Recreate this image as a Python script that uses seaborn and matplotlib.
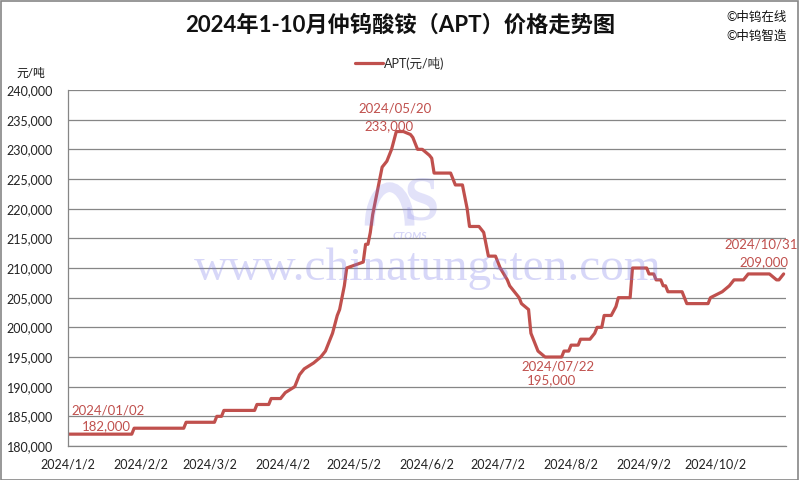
import pandas as pd
import matplotlib
matplotlib.use("Agg")
import matplotlib.pyplot as plt
import matplotlib.ticker as mticker
from matplotlib.patches import Rectangle, Arc
import seaborn as sns

# price turning points (yuan/ton)
dates = [
    "2024-01-02", "2024-01-29", "2024-01-30", "2024-02-20", "2024-02-21",
    "2024-03-04", "2024-03-05", "2024-03-07", "2024-03-08", "2024-03-21",
    "2024-03-22", "2024-03-27", "2024-03-28", "2024-04-01", "2024-04-03",
    "2024-04-07", "2024-04-08", "2024-04-09", "2024-04-11", "2024-04-15",
    "2024-04-18", "2024-04-20", "2024-04-22", "2024-04-23", "2024-04-25",
    "2024-04-26", "2024-04-27", "2024-04-28", "2024-04-29", "2024-05-06",
    "2024-05-07", "2024-05-08", "2024-05-09", "2024-05-10", "2024-05-12",
    "2024-05-13", "2024-05-14", "2024-05-16", "2024-05-18", "2024-05-19",
    "2024-05-20", "2024-05-23", "2024-05-26", "2024-05-27", "2024-05-29",
    "2024-05-31", "2024-06-03", "2024-06-04", "2024-06-05", "2024-06-12",
    "2024-06-14", "2024-06-17", "2024-06-19", "2024-06-20", "2024-06-24",
    "2024-06-26", "2024-06-28", "2024-07-01", "2024-07-03", "2024-07-06",
    "2024-07-07", "2024-07-09", "2024-07-11", "2024-07-12", "2024-07-15",
    "2024-07-16", "2024-07-17", "2024-07-19", "2024-07-22", "2024-07-29",
    "2024-07-30", "2024-08-01", "2024-08-02", "2024-08-05", "2024-08-06",
    "2024-08-10", "2024-08-12", "2024-08-13", "2024-08-15", "2024-08-16",
    "2024-08-19", "2024-08-21", "2024-08-22", "2024-08-27", "2024-08-28",
    "2024-09-03", "2024-09-04", "2024-09-06", "2024-09-07", "2024-09-09",
    "2024-09-10", "2024-09-11", "2024-09-12", "2024-09-18", "2024-09-20",
    "2024-09-29", "2024-09-30", "2024-10-05", "2024-10-08", "2024-10-10",
    "2024-10-14", "2024-10-16", "2024-10-25", "2024-10-28", "2024-10-29",
    "2024-10-31",
]
prices = [
    182000, 182000, 183000, 183000, 184000,
    184000, 185000, 185000, 186000, 186000,
    187000, 187000, 188000, 188000, 189000,
    190000, 191000, 192000, 193000, 194000,
    195000, 196000, 198000, 199000, 202000,
    203000, 205000, 207000, 210000, 211000,
    214000, 214000, 216000, 219000, 223000,
    225000, 227000, 228000, 230000, 231500,
    233000, 233000, 232500, 232000, 230000,
    230000, 229000, 228500, 226000, 226000,
    224000, 224000, 220000, 217000, 217000,
    216000, 212000, 212000, 210000, 208000,
    207000, 206000, 205000, 204000, 203000,
    199000, 198000, 196000, 195000, 195000,
    196000, 196000, 197000, 197000, 198000,
    198000, 199000, 200000, 200000, 202000,
    202000, 203500, 205000, 205000, 210000,
    210000, 209000, 209000, 208000, 208000,
    207000, 207000, 206000, 206000, 204000,
    204000, 205000, 206000, 207000, 208000,
    208000, 209000, 209000, 208000, 208000,
    209000,
]

tick_dates = ["2024-01-02", "2024-02-02", "2024-03-02", "2024-04-02", "2024-05-02",
              "2024-06-02", "2024-07-02", "2024-08-02", "2024-09-02", "2024-10-02"]
tick_labels = ["2024/1/2", "2024/2/2", "2024/3/2", "2024/4/2", "2024/5/2",
               "2024/6/2", "2024/7/2", "2024/8/2", "2024/9/2", "2024/10/2"]

note_dates = ["2024-01-02", "2024-05-20", "2024-07-22", "2024-10-31"]
note_prices = [182000, 233000, 195000, 209000]

red = "#C0504D"
grey = "#868686"
wm = "#7b7be8"

sns.set_style("white")
plt.rcParams["font.family"] = ["Lato", "Noto Sans CJK SC", "DejaVu Sans"]

df = pd.DataFrame({"date": pd.to_datetime(dates), "price": prices})

fig = plt.figure(figsize=(8, 4.8), dpi=100)
ax = fig.add_axes([0.085, 0.0708, 0.8975, 0.7417])

sns.lineplot(data=df, x="date", y="price", color=red, linewidth=2.3,
             ax=ax, label="APT(元/吨)")

ax.set_xlim(pd.Timestamp("2024-01-02"), pd.Timestamp("2024-11-01"))
ax.set_ylim(180000, 240000)
ax.yaxis.set_major_locator(mticker.MultipleLocator(5000))
ax.yaxis.set_major_formatter(mticker.StrMethodFormatter("{x:,.0f}"))
ax.set_xticks(pd.to_datetime(tick_dates))
ax.set_xticklabels(tick_labels)
ax.set_xlabel("")
ax.set_ylabel("")
ax.grid(axis="y", color=grey, linewidth=0.9)
ax.set_axisbelow(True)
for s in ["top", "right"]:
    ax.spines[s].set_visible(False)
for s in ["left", "bottom"]:
    ax.spines[s].set_color(grey)
    ax.spines[s].set_linewidth(0.9)
ax.tick_params(axis="both", direction="out", length=4, width=0.8, color=grey,
               labelsize=9, labelcolor="#222222")
ax.tick_params(axis="x", pad=5)
ax.tick_params(axis="y", pad=7)

# point labels: (date dx, dy, value dx, dy) in points, alignment
nd = pd.to_datetime(note_dates)
offsets = [(2.3, 17, 10, 6), (-1, 16.5, -5.5, 3.6), (9, -6.5, 4.7, -17), (-16, 21, -14, 8.6)]
aligns = ["left", "center", "center", "center"]
for d, p, (dx1, dy1, dx2, dy2), ha in zip(nd, note_prices, offsets, aligns):
    ax.annotate(d.strftime("%Y/%m/%d"), (d, p), xytext=(dx1, dy1),
                textcoords="offset points", ha=ha, va="center", fontsize=9.5,
                color=red)
    ax.annotate(f"{p:,}", (d, p), xytext=(dx2, dy2),
                textcoords="offset points", ha=ha, va="center", fontsize=9.5,
                color=red)

# watermark
fig.text(0.535, 0.44, "www.chinatungsten.com", fontsize=34, family="Liberation Serif",
         color=wm, alpha=0.3, ha="center", va="center")
fig.text(0.527, 0.575, "S", fontsize=46, family="Liberation Serif", fontweight="bold",
         color=wm, alpha=0.22, ha="center", va="center")
fig.patches.append(Arc((0.487, 0.53), 0.05, 0.16, theta1=0, theta2=180,
                       transform=fig.transFigure, color=wm, alpha=0.22, linewidth=7))
fig.text(0.512, 0.507, "CTOMS", fontsize=7.5, fontweight="bold", style="italic",
         color=wm, alpha=0.3, ha="center", va="center")

leg = ax.legend(loc="center", bbox_to_anchor=(0.5, 0.868), bbox_transform=fig.transFigure,
                frameon=False, fontsize=9, handlelength=2.2, handletextpad=0.1)

fig.text(0.5, 0.948, "2024年1-10月仲钨酸铵（APT）价格走势图", ha="center", va="center",
         fontsize=16, fontweight="bold", color="#111111")
fig.text(0.908, 0.965, "©中钨在线", fontsize=9, ha="left", va="center", color="#111111")
fig.text(0.908, 0.925, "©中钨智造", fontsize=9, ha="left", va="center", color="#111111")
fig.text(0.02, 0.848, "元/吨", fontsize=8.5, ha="left", va="center", color="#111111")

fig.patches.append(Rectangle((0.001, 0.001), 0.997, 0.997, transform=fig.transFigure,
                             fill=False, edgecolor=grey, linewidth=1.2))

fig.savefig("out.png", dpi=100, facecolor="white")
